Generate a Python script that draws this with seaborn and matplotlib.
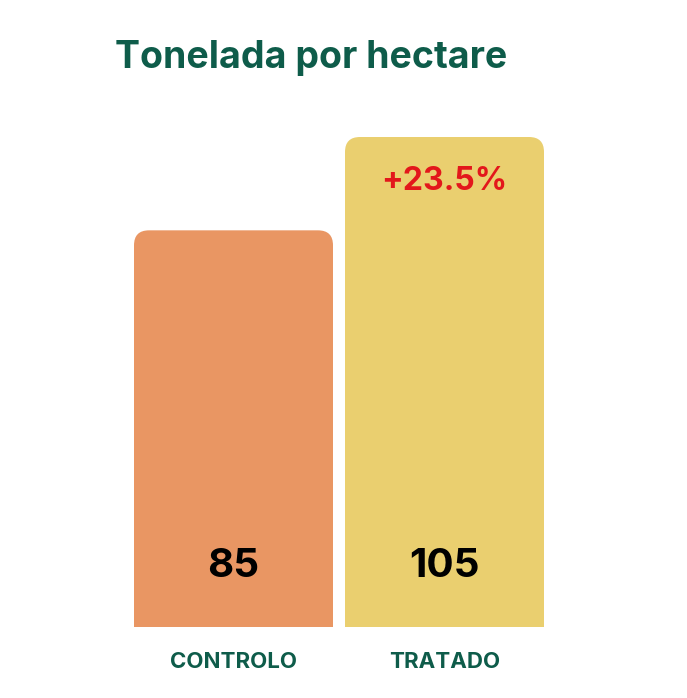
import matplotlib
matplotlib.use("Agg")
import matplotlib.pyplot as plt
import seaborn as sns
import pandas as pd
from matplotlib.patches import FancyBboxPatch

categories = ["CONTROLO", "TRATADO"]
values = [85, 105]
labels = ["85", "105"]
colors = ["#FF914D", "#FFDA5A"]
increase_label = "+23.5%"
title = "Tonelada por hectare"

GREEN = "#0E5C4A"
df = pd.DataFrame({"cat": categories, "val": values})

fig = plt.figure(figsize=(6.87, 6.98), dpi=100)
W, H = 687, 698
# axes spans exactly the bars: x 134..544, y 137..627 (pixels)
ax = fig.add_axes([134 / W, 1 - 627 / H, 410 / W, 490 / H])
bw = 199 / 211
sns.barplot(data=df, x="cat", y="val", hue="cat", palette=colors, width=bw,
            legend=False, ax=ax)

ax.set_xlim(-bw / 2, 1 + bw / 2)
ax.set_ylim(0, max(values))
r_x = 15 / 211
r_y = 15 / (490 / max(values))
for p in list(ax.patches):
    x, w, h = p.get_x(), p.get_width(), p.get_height()
    fc = p.get_facecolor()
    p.remove()
    ax.add_patch(FancyBboxPatch((x, -20), w, h + 20,
                                boxstyle=f"round,pad=0,rounding_size={r_x}",
                                mutation_aspect=r_y / r_x, fc=fc, ec="none"))

for i, lab in enumerate(labels):
    ax.text(i + 0.0, 13, lab, ha="center", va="center", fontsize=29,
            fontweight="bold", color="black", family="Inter")
ax.text(1, values[1] - 9.5, increase_label, ha="center", va="center",
        fontsize=23, fontweight="bold", color="#E3171B", family="Inter")

ax.set_xticks(range(len(categories)))
ax.set_xticklabels(categories, fontsize=16, fontweight="bold", color=GREEN,
                   family="Inter")
ax.tick_params(length=0, pad=18)
ax.set_yticks([])
ax.set_xlabel("")
ax.set_ylabel("")
for s in ax.spines.values():
    s.set_visible(False)
ax.patch.set_alpha(0)

fig.text(115 / W, 1 - 58 / H, title, ha="left", va="center", fontsize=27,
         fontweight="bold", color=GREEN, family="Inter")

fig.savefig("out.png", dpi=100, facecolor="white")
